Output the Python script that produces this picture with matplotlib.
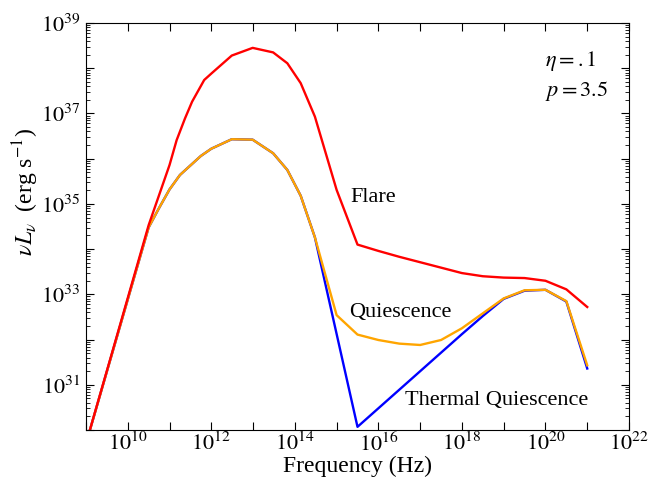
import numpy as np
import matplotlib
matplotlib.use("Agg")
import matplotlib.pyplot as plt
from matplotlib.ticker import LogLocator, FixedLocator, FuncFormatter, NullLocator

plt.rcParams['font.family'] = ['Liberation Serif', 'DejaVu Serif']
plt.rcParams['mathtext.fontset'] = 'stix'

# log10(frequency [Hz]) and log10(nu L_nu [erg/s])
flare_logx = [9.0, 10.5, 11.0, 11.17, 11.37, 11.54, 11.83, 12.01, 12.49, 12.99, 13.48,
              13.82, 14.14, 14.48, 15.0, 15.5, 16.0, 16.5, 17.0, 17.5, 18.0, 18.5,
              19.0, 19.5, 20.0, 20.5, 21.0]
flare_logy = [29.70, 34.53, 35.86, 36.41, 36.89, 37.26, 37.74, 37.89, 38.28, 38.45, 38.35,
              38.11, 37.67, 36.93, 35.31, 34.10, 33.96, 33.83, 33.71, 33.59, 33.47, 33.40,
              33.37, 33.36, 33.30, 33.11, 32.72]

quies_logx = [9.0, 10.5, 10.75, 11.0, 11.25, 11.5, 11.75, 12.0, 12.49, 12.99, 13.48,
              13.82, 14.14, 14.48, 15.0, 15.5, 16.0, 16.5, 17.0, 17.5, 18.0, 18.5,
              19.0, 19.5, 20.0, 20.5, 21.0]
quies_logy = [29.70, 34.48, 34.91, 35.32, 35.64, 35.85, 36.06, 36.22, 36.43, 36.42, 36.12,
              35.75, 35.18, 34.26, 32.54, 32.11, 31.99, 31.91, 31.88, 31.99, 32.25, 32.58,
              32.91, 33.09, 33.10, 32.85, 31.43]

therm_logx = [9.0, 10.5, 10.75, 11.0, 11.25, 11.5, 11.75, 12.0, 12.49, 12.99, 13.48,
              13.82, 14.14, 14.48, 15.5, 16.0, 16.5, 17.0, 17.5, 18.0, 18.5,
              19.0, 19.5, 20.0, 20.5, 21.0]
therm_logy = [29.70, 34.48, 34.91, 35.32, 35.64, 35.85, 36.06, 36.22, 36.43, 36.42, 36.12,
              35.75, 35.18, 34.26, 30.07, 30.48, 30.89, 31.30, 31.71, 32.12, 32.52,
              32.90, 33.08, 33.10, 32.84, 31.36]

fig = plt.figure(figsize=(6.5, 4.79), dpi=100)
ax = fig.add_axes([86/650, 1-430/479, (629-86)/650, (430-23)/479])

def p(v):
    return 10**np.array(v)

ax.plot(p(therm_logx), p(therm_logy), color='#0000ff', lw=1.7)
ax.plot(p(quies_logx), p(quies_logy), color='#ffa500', lw=1.7)
ax.plot(p(flare_logx), p(flare_logy), color='#ff0000', lw=1.7)

ax.set_xscale('log')
ax.set_yscale('log')
ax.set_xlim(1e9, 1e22)
ax.set_ylim(1e30, 1e39)

ax.xaxis.set_major_locator(FixedLocator([10.0**k for k in range(9, 23)]))
ax.xaxis.set_minor_locator(NullLocator())
ax.yaxis.set_major_locator(FixedLocator([10.0**k for k in range(30, 40)]))
ax.yaxis.set_minor_locator(LogLocator(base=10, subs=np.arange(2, 10), numticks=100))

def xfmt(v, pos):
    k = int(round(np.log10(v)))
    return r'$10^{%d}$' % k if k % 2 == 0 and k >= 10 else ''

def yfmt(v, pos):
    k = int(round(np.log10(v)))
    return r'$10^{%d}$' % k if k % 2 == 1 else ''

ax.xaxis.set_major_formatter(FuncFormatter(xfmt))
ax.yaxis.set_major_formatter(FuncFormatter(yfmt))
ax.tick_params(which='both', direction='in', top=True, right=True, labelsize=16)
ax.tick_params(which='major', length=5.5, width=0.8)
ax.tick_params(which='minor', length=2.8, width=0.6)
ax.tick_params(axis='x', pad=2)
ax.tick_params(axis='y', pad=4)

ax.set_xlabel('Frequency (Hz)', fontsize=17, labelpad=0)
ax.set_ylabel(r'$\nu L_\nu$  (erg s$^{-1}$)', fontsize=17)
ax.yaxis.set_label_coords(-0.083, 0.585)

ax.text(0.845, 0.935, '$\\eta = .1$\n$p = 3.5$', transform=ax.transAxes,
        fontsize=16, va='top', ha='left', linespacing=1.3)
ax.text((350-86)/543, (430-197)/407, 'Flare', transform=ax.transAxes, fontsize=16, va='center')
ax.text((349-86)/543, (430-312)/407, 'Quiescence', transform=ax.transAxes, fontsize=16, va='center')
ax.text((405-86)/543, (430-400)/407, 'Thermal Quiescence', transform=ax.transAxes, fontsize=16, va='center')

fig.savefig('out.png', dpi=100)
